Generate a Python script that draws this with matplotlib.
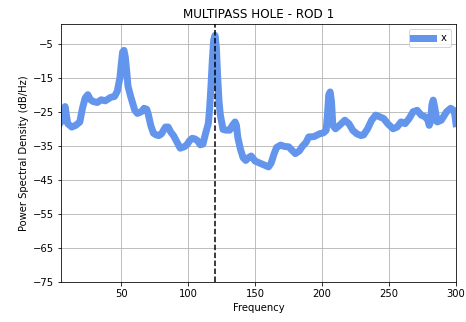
import matplotlib.pyplot as plt
import numpy as np

# values
freq = [5, 6, 7, 8, 9, 10, 13, 16, 19, 21, 23, 25, 27, 29, 32, 35, 38, 42, 45, 47,
        49, 50, 51, 52, 53, 54, 55, 57, 60, 62, 65, 67, 69, 70, 72, 74, 76, 78, 80,
        83, 85, 87, 89, 91, 94, 97, 99, 101, 103, 105, 107, 109, 111, 113, 115,
        116, 117, 118, 119, 120, 121, 122, 123, 124, 126, 128, 131, 133, 135, 136,
        137, 139, 141, 143, 145, 147, 150, 153, 156, 160, 162, 164, 166, 169, 172,
        175, 178, 180, 183, 185, 188, 190, 194, 198, 201, 203, 204, 205, 206, 207,
        208, 210, 213, 217, 220, 223, 226, 229, 231, 234, 237, 240, 243, 246, 249,
        253, 256, 259, 262, 265, 268, 271, 274, 277, 279, 280, 281, 282, 283, 284,
        286, 289, 293, 296, 298, 299, 300]
psd = [-28, -27.5, -25, -23.5, -26, -28.5, -29.5, -29, -28, -24, -21, -20, -21.5, -22, -22.3, -21.5, -21.8, -20.8, -20.5, -19,
       -15, -11, -7.5, -7, -9, -13, -17.5, -20.5, -24.5, -25.5, -25, -24, -24.3, -25.5, -29, -31.3, -31.8, -32, -31.5,
       -29.5, -29.5, -31, -32, -33.5, -35.7, -35.3, -34.7, -33.5, -32.8, -33, -33.5, -34.7, -34.5, -31.3, -28.5,
       -24, -17.5, -10, -4, -2.6, -6, -15, -22, -26, -30.2, -30.4, -30.4, -29, -28, -29,
       -32.5, -36, -38.5, -39.3, -38.5, -38, -39.5, -40, -40.5, -41.2, -40, -37.5, -35.5, -34.8, -35.2,
       -35.3, -36.5, -37.3, -36.5, -35.3, -34, -32.4, -32.3, -31.5, -31.2, -30.5, -26, -20, -19.2, -22,
       -29, -30, -29, -27.5, -28.5, -30.5, -31.5, -32, -31.8, -30, -27.5, -26, -26.5, -27, -28.5,
       -30, -29.5, -28, -28.5, -27, -25, -24.6, -26, -26.5, -27.5, -29, -28, -23, -21.6, -23.5,
       -28, -27.5, -25, -24, -24.5, -25.5, -28.5]

peak_freq = 120

fig = plt.figure(figsize=(466 / 72, 322 / 72), dpi=72)
ax = fig.add_axes([0.131, 0.124, 0.8475, 0.801])

ax.plot(freq, psd, color='cornflowerblue', linewidth=7, label='x')
ax.axvline(peak_freq, color='black', linestyle='--', linewidth=1.5)

ax.set_title('MULTIPASS HOLE - ROD 1')
ax.set_xlabel('Frequency')
ax.set_ylabel('Power Spectral Density (dB/Hz)')
ax.set_xlim(5, 300)
ax.set_ylim(-75, 0.7)
ax.set_yticks(np.arange(-75, 0, 10))
ax.grid(True)
ax.legend(loc='upper right')

fig.savefig('out.png', dpi=72)
